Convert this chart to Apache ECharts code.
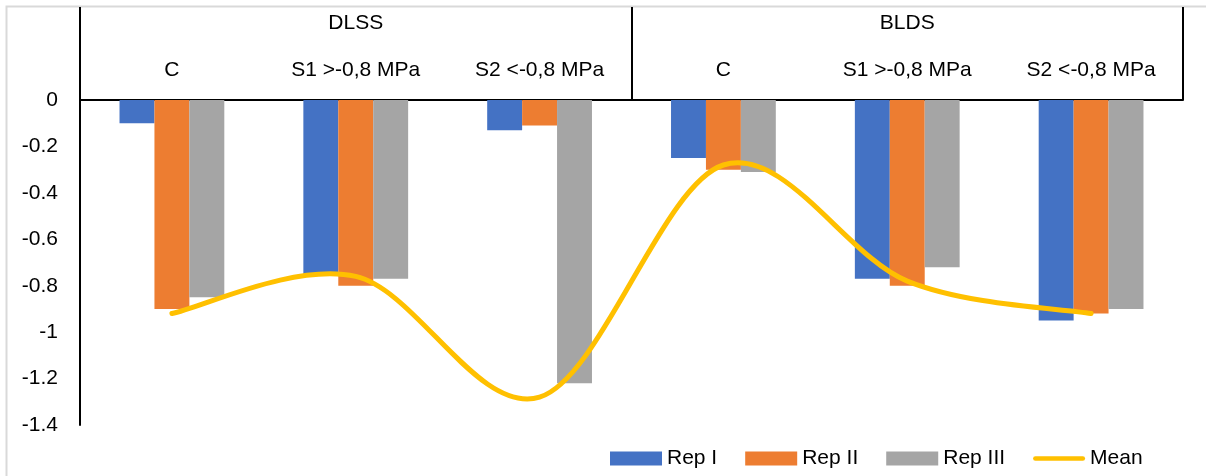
<!DOCTYPE html>
<html>
<head>
<meta charset="utf-8">
<script src="https://cdn.jsdelivr.net/npm/echarts@6/dist/echarts.min.js"></script>
<style>
  html, body { margin: 0; padding: 0; background: #fff; }
  #chart { width: 1206px; height: 476px; }
</style>
</head>
<body>
<div id="chart"></div>
<script>
// Treatment levels (inner row) and site groups (outer row)
const treatments = ['C', 'S1 >-0,8 MPa', 'S2 <-0,8 MPa', 'C', 'S1 >-0,8 MPa', 'S2 <-0,8 MPa'];
const sites = ['DLSS', 'BLDS'];

// Replicate values per treatment
const repI   = [-0.10, -0.75, -0.13, -0.25, -0.77, -0.95];
const repII  = [-0.90, -0.80, -0.11, -0.30, -0.80, -0.92];
const repIII = [-0.85, -0.77, -1.22, -0.31, -0.72, -0.90];
const meanLine = [-0.92, -0.76, -1.28, -0.28, -0.78, -0.92];

// Value axis ticks
const yMin = -1.4, yMax = 0, yStep = 0.2;

const FONT = 'Liberation Sans';
const FONT_SIZE = 21;
const MEAN_COLOR = '#FFC000';

// Smoothed curve through the mean points (Catmull-Rom style bezier,
// control points at one sixth of the neighbour span)
function smoothPath(pts) {
  let d = 'M' + pts[0][0] + ' ' + pts[0][1];
  for (let i = 0; i < pts.length - 1; i++) {
    const p0 = pts[Math.max(i - 1, 0)];
    const p1 = pts[i];
    const p2 = pts[i + 1];
    const p3 = pts[Math.min(i + 2, pts.length - 1)];
    const c1x = p1[0] + (p2[0] - p0[0]) / 6, c1y = p1[1] + (p2[1] - p0[1]) / 6;
    const c2x = p2[0] - (p3[0] - p1[0]) / 6, c2y = p2[1] - (p3[1] - p1[1]) / 6;
    d += ' C' + c1x + ' ' + c1y + ' ' + c2x + ' ' + c2y + ' ' + p2[0] + ' ' + p2[1];
  }
  return d;
}

const chart = echarts.init(document.getElementById('chart'), null, { renderer: 'canvas' });

chart.setOption({
  animation: false,
  backgroundColor: '#ffffff',
  textStyle: { fontFamily: FONT, color: '#000' },
  grid: { left: 80, right: 23, top: 100, bottom: 51 },
  legend: {
    left: 605, top: 443,
    itemWidth: 52, itemHeight: 14, itemGap: 28,
    textStyle: { fontFamily: FONT, fontSize: FONT_SIZE, color: '#000' },
    data: [
      { name: 'Rep I', icon: 'rect' },
      { name: 'Rep II', icon: 'rect' },
      { name: 'Rep III', icon: 'rect' },
      { name: 'Mean', icon: 'path://M2,5 L54,5 A2.5,2.5 0 0 1 54,10 L2,10 A2.5,2.5 0 0 1 2,5 Z',
        itemStyle: { color: MEAN_COLOR } }
    ]
  },
  xAxis: [
    {
      type: 'category', data: treatments, position: 'top',
      axisLine: { show: true, lineStyle: { color: '#000', width: 2 } },
      axisTick: { show: false },
      axisLabel: { margin: 19, fontSize: FONT_SIZE, color: '#000', fontFamily: FONT, interval: 0 }
    },
    {
      type: 'category', data: sites, position: 'top',
      axisLine: { show: false },
      axisTick: { show: true, length: 93, lineStyle: { color: '#000', width: 2 } },
      axisLabel: { margin: 66, fontSize: FONT_SIZE, color: '#000', fontFamily: FONT, interval: 0 }
    }
  ],
  yAxis: {
    type: 'value', min: yMin, max: yMax, interval: yStep,
    axisLine: { show: true, lineStyle: { color: '#000', width: 2 } },
    axisTick: { show: false },
    splitLine: { show: false },
    axisLabel: {
      fontSize: FONT_SIZE, color: '#000', fontFamily: FONT, margin: 22,
      formatter: v => String(Math.round(v * 10) / 10)
    }
  },
  series: [
    { name: 'Rep I', type: 'bar', data: repI, barGap: '0%', barCategoryGap: '43%',
      itemStyle: { color: '#4472C4' } },
    { name: 'Rep II', type: 'bar', data: repII, barGap: '0%', barCategoryGap: '43%',
      itemStyle: { color: '#ED7D31' } },
    { name: 'Rep III', type: 'bar', data: repIII, barGap: '0%', barCategoryGap: '43%',
      itemStyle: { color: '#A5A5A5' } },
    {
      name: 'Mean', type: 'custom', z: 5,
      itemStyle: { color: MEAN_COLOR },
      data: meanLine.map((v, i) => [i, v]),
      renderItem: (params, api) => {
        if (params.dataIndex !== 0) return null;
        const pts = meanLine.map((v, i) => api.coord([i, v]));
        return {
          type: 'path',
          shape: { pathData: smoothPath(pts) },
          style: { fill: null, stroke: MEAN_COLOR, lineWidth: 5, lineCap: 'round', lineJoin: 'round' }
        };
      }
    }
  ],
  graphic: [
    // light frame around the chart area (top and left edges visible)
    { type: 'rect', shape: { x: 6.5, y: 6.5, width: 1300, height: 600 },
      style: { fill: null, stroke: '#D9D9D9', lineWidth: 2 }, silent: true, z: -1 }
  ]
});
</script>
</body>
</html>
